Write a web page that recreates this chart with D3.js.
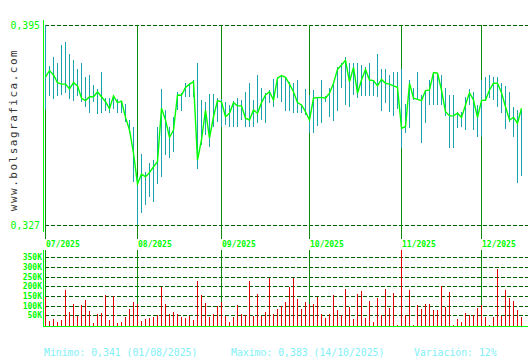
<!DOCTYPE html>
<html><head><meta charset="utf-8">
<script src="https://cdn.jsdelivr.net/npm/d3@7"></script>
<style>body{margin:0;background:#fff}svg{display:block}</style>
</head><body>
<script>
// Daily highs / lows / closes (EUR) and volumes (thousands), 01/07/2025 - 15/12/2025
const highs = [
0.3950,0.3811,0.3842,0.3822,0.3883,0.3892,0.3851,0.3831,0.3799,0.3821,
0.3774,0.3779,0.3745,0.3731,0.3790,0.3702,0.3702,0.3711,0.3699,0.3693,
0.3681,0.3627,0.3604,0.3434,0.3511,0.3451,0.3480,0.3491,0.3604,0.3731,
0.3661,0.3604,0.3638,0.3723,0.3720,0.3752,0.3754,0.3763,0.3822,0.3695,
0.3689,0.3714,0.3715,0.3701,0.3699,0.3689,0.3678,0.3693,0.3701,0.3695,
0.3723,0.3754,0.3695,0.3780,0.3735,0.3718,0.3729,0.3765,0.3774,0.3780,
0.3774,0.3757,0.3754,0.3763,0.3681,0.3731,0.3712,0.3729,0.3706,0.3763,
0.3709,0.3735,0.3754,0.3808,0.3822,0.3842,0.3822,0.3820,0.3820,0.3814,
0.3806,0.3820,0.3763,0.3851,0.3799,0.3799,0.3780,0.3791,0.3791,0.3799,
0.3681,0.3763,0.3735,0.3791,0.3712,0.3729,0.3763,0.3791,0.3788,0.3780,
0.3735,0.3712,0.3712,0.3655,0.3655,0.3706,0.3731,0.3723,0.3678,0.3763,
0.3774,0.3780,0.3774,0.3772,0.3754,0.3743,0.3723,0.3670,0.3661,0.3661];
const lows = [
0.3661,0.3709,0.3698,0.3709,0.3713,0.3718,0.3698,0.3693,0.3708,0.3689,
0.3670,0.3650,0.3688,0.3647,0.3650,0.3657,0.3650,0.3663,0.3650,0.3650,
0.3620,0.3582,0.3417,0.3270,0.3310,0.3339,0.3366,0.3349,0.3409,0.3432,
0.3508,0.3497,0.3519,0.3661,0.3659,0.3706,0.3706,0.3706,0.3459,0.3542,
0.3576,0.3536,0.3602,0.3621,0.3604,0.3610,0.3602,0.3604,0.3602,0.3627,
0.3602,0.3602,0.3604,0.3616,0.3627,0.3616,0.3684,0.3670,0.3701,0.3689,
0.3659,0.3659,0.3650,0.3650,0.3650,0.3644,0.3582,0.3582,0.3607,0.3618,
0.3688,0.3636,0.3625,0.3659,0.3735,0.3678,0.3670,0.3712,0.3701,0.3709,
0.3709,0.3709,0.3709,0.3706,0.3659,0.3686,0.3655,0.3641,0.3663,0.3531,
0.3582,0.3599,0.3695,0.3695,0.3550,0.3618,0.3678,0.3678,0.3678,0.3678,
0.3641,0.3531,0.3531,0.3599,0.3602,0.3593,0.3678,0.3593,0.3570,0.3570,
0.3693,0.3701,0.3695,0.3672,0.3650,0.3595,0.3621,0.3570,0.3412,0.3437];
const closes = [
0.3774,0.3795,0.3780,0.3754,0.3749,0.3749,0.3733,0.3754,0.3743,0.3701,
0.3693,0.3706,0.3706,0.3723,0.3706,0.3689,0.3665,0.3709,0.3686,0.3691,
0.3636,0.3593,0.3514,0.3410,0.3443,0.3434,0.3448,0.3468,0.3485,0.3667,
0.3627,0.3568,0.3593,0.3712,0.3711,0.3738,0.3749,0.3757,0.3491,0.3559,
0.3661,0.3565,0.3638,0.3693,0.3689,0.3638,0.3650,0.3686,0.3675,0.3675,
0.3633,0.3627,0.3661,0.3650,0.3686,0.3712,0.3723,0.3695,0.3769,0.3778,
0.3772,0.3749,0.3723,0.3686,0.3678,0.3655,0.3627,0.3701,0.3703,0.3704,
0.3701,0.3718,0.3752,0.3799,0.3814,0.3830,0.3757,0.3806,0.3718,0.3763,
0.3799,0.3763,0.3761,0.3743,0.3765,0.3752,0.3749,0.3743,0.3738,0.3599,
0.3604,0.3752,0.3701,0.3697,0.3693,0.3727,0.3729,0.3788,0.3786,0.3729,
0.3655,0.3641,0.3641,0.3650,0.3636,0.3678,0.3720,0.3695,0.3636,0.3693,
0.3695,0.3729,0.3752,0.3752,0.3720,0.3672,0.3627,0.3636,0.3616,0.3667];
const volumes = [
147,22,33,16,26,181,67,109,47,102,
129,74,9,57,64,153,26,150,12,16,
40,84,119,110,22,33,36,43,50,198,
109,57,67,57,40,36,47,26,229,153,
116,40,57,98,120,47,16,40,102,57,
50,229,47,160,47,67,243,57,81,98,
119,198,243,136,84,119,109,109,147,57,
36,57,153,78,50,184,91,33,160,176,
36,126,16,140,50,184,88,167,2,388,
50,181,2,102,81,109,109,78,78,202,
95,171,2,29,16,60,50,50,88,102,
40,2,40,288,47,181,140,126,78,40];
const priceTicks = [0.327, 0.395];
const volumeTicks = [50, 100, 150, 200, 250, 300, 350];
const statsTexts = ["Minimo: 0,341 (01/08/2025)", "Maximo: 0,383 (14/10/2025)", "Variación: 12%"];
const siteText = "www.bolsagrafica.com";

// trading-day calendar (weekdays)
const dates = [];
for (let d = new Date(Date.UTC(2025, 6, 1)); d <= new Date(Date.UTC(2025, 11, 15)); d.setUTCDate(d.getUTCDate() + 1)) {
  const wd = d.getUTCDay();
  if (wd !== 0 && wd !== 6) dates.push(new Date(d));
}
const fmtMonth = d3.utcFormat("%m/%Y");
const monthStarts = dates.map((d, i) => i).filter(i => i === 0 || dates[i].getUTCMonth() !== dates[i - 1].getUTCMonth());

const W = 530, H = 360;
const svg = d3.select("body").append("svg").attr("width", W).attr("height", H)
  .style("font-family", "'DejaVu Sans Mono', monospace");

const x = d3.scalePoint().domain(d3.range(dates.length)).range([45, 45 + 4 * (dates.length - 1)]);
const y = d3.scaleLinear().domain([0.327, 0.395]).range([225, 25]);
const yv = d3.scaleLinear().domain([0, 350]).range([325, 257.3]);

const GRID = "#005f00", MONTH = "#0b8a0b", BRIGHT = "#00ff00", CYAN = "#19a3ad", RED = "#e00000";

// price dashed grid
svg.append("g").selectAll("line").data(priceTicks).join("line")
  .attr("x1", 45).attr("x2", 528)
  .attr("y1", d => Math.round(y(d)) + 0.5).attr("y2", d => Math.round(y(d)) + 0.5)
  .attr("stroke", GRID).attr("stroke-dasharray", "4,2").attr("shape-rendering", "crispEdges");

// volume dashed grid
svg.append("g").selectAll("line").data(volumeTicks).join("line")
  .attr("x1", 45).attr("x2", 528)
  .attr("y1", d => Math.round(yv(d)) + 0.5).attr("y2", d => Math.round(yv(d)) + 0.5)
  .attr("stroke", GRID).attr("stroke-dasharray", "4,2").attr("shape-rendering", "crispEdges");

// month separators
const mg = svg.append("g");
mg.selectAll("line.a").data(monthStarts).join("line").attr("class", "a")
  .attr("x1", i => x(i) + 0.5).attr("x2", i => x(i) + 0.5).attr("y1", 25).attr("y2", 239)
  .attr("stroke", MONTH).attr("shape-rendering", "crispEdges");
mg.selectAll("line.b").data(monthStarts).join("line").attr("class", "b")
  .attr("x1", i => x(i) + 0.5).attr("x2", i => x(i) + 0.5).attr("y1", 250).attr("y2", 326)
  .attr("stroke", MONTH).attr("shape-rendering", "crispEdges");
mg.selectAll("text").data(monthStarts).join("text")
  .attr("x", i => x(i) + 1).attr("y", 247)
  .attr("font-size", 8).attr("font-weight", "bold").attr("fill", BRIGHT)
  .text(i => fmtMonth(dates[i]));

// high-low bars
svg.append("g").selectAll("rect").data(d3.range(dates.length)).join("rect")
  .attr("x", i => x(i)).attr("width", 1)
  .attr("y", i => y(highs[i])).attr("height", i => y(lows[i]) - y(highs[i]))
  .attr("fill", CYAN).attr("shape-rendering", "crispEdges");

// close line
svg.append("path").datum(d3.range(dates.length))
  .attr("d", d3.line().x(i => x(i) + 0.5).y(i => y(closes[i])))
  .attr("fill", "none").attr("stroke", BRIGHT).attr("stroke-width", 1.4);

// volume bars
svg.append("g").selectAll("rect").data(d3.range(dates.length)).join("rect")
  .attr("x", i => x(i)).attr("width", 1)
  .attr("y", i => yv(volumes[i])).attr("height", i => 326 - yv(volumes[i]))
  .attr("fill", RED).attr("shape-rendering", "crispEdges");

// axes lines
svg.append("line").attr("x1", 43.5).attr("x2", 43.5).attr("y1", 20).attr("y2", 232)
  .attr("stroke", BRIGHT).attr("shape-rendering", "crispEdges");
svg.append("line").attr("x1", 43.5).attr("x2", 43.5).attr("y1", 250).attr("y2", 327)
  .attr("stroke", BRIGHT).attr("shape-rendering", "crispEdges");
svg.append("line").attr("x1", 43).attr("x2", 528).attr("y1", 326.5).attr("y2", 326.5)
  .attr("stroke", BRIGHT).attr("stroke-width", 1.5).attr("shape-rendering", "crispEdges");

// price labels
const fmtP = v => d3.format(".3f")(v).replace(".", ",");
svg.append("g").selectAll("text").data(priceTicks).join("text")
  .attr("x", 40).attr("y", d => y(d) + 4).attr("text-anchor", "end")
  .attr("font-size", 9.8).attr("fill", BRIGHT).text(fmtP);

// volume labels
svg.append("g").selectAll("text").data(volumeTicks).join("text")
  .attr("x", 42).attr("y", d => yv(d) + 3).attr("text-anchor", "end")
  .attr("font-size", 8).attr("font-weight", "bold").attr("fill", BRIGHT).text(d => d + "K");

// site text
svg.append("text").attr("transform", "translate(16.5,130) rotate(-90)")
  .attr("text-anchor", "middle").attr("font-size", 11).attr("letter-spacing", 1.5)
  .attr("fill", "#333").text(siteText);

// stats
svg.append("g").selectAll("text").data(statsTexts).join("text")
  .attr("x", (d, i) => [44, 231, 414][i]).attr("y", 356)
  .attr("font-size", 9.8).attr("fill", "#7ff0f8").text(d => d);
</script>
</body></html>
